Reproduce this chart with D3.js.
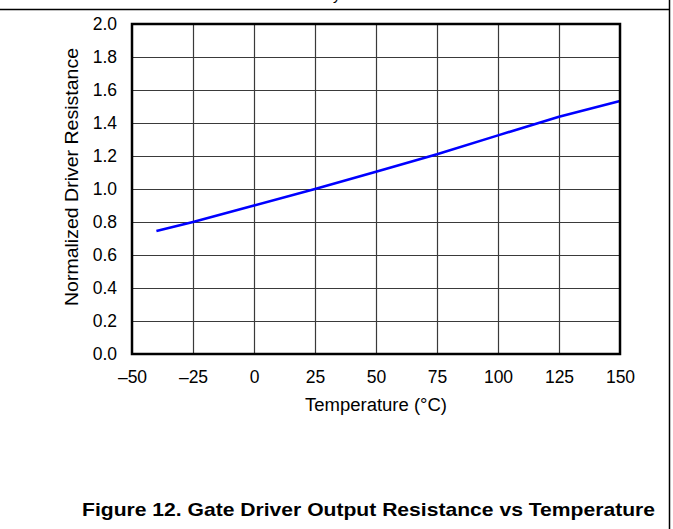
<!DOCTYPE html>
<html>
<head>
<meta charset="utf-8">
<script src="https://cdn.jsdelivr.net/npm/d3@7"></script>
<style>
  html, body { margin: 0; padding: 0; background: #fff; }
  svg { display: block; font-family: "Liberation Sans", Arial, sans-serif; }
</style>
</head>
<body>
<svg id="chart" width="673" height="529"></svg>
<script>
// ---- data ----
const temperatures = [-40, -25, 0, 25, 50, 75, 100, 125, 150];
const resistance   = [0.745, 0.80, 0.90, 1.00, 1.105, 1.21, 1.325, 1.438, 1.533];
const xTicks = [-50, -25, 0, 25, 50, 75, 100, 125, 150];
const yTicks = [0.0, 0.2, 0.4, 0.6, 0.8, 1.0, 1.2, 1.4, 1.6, 1.8, 2.0];
const xTitle = "Temperature (°C)";
const yTitle = "Normalized Driver Resistance";
const caption = "Figure 12. Gate Driver Output Resistance vs Temperature";

const svg = d3.select("#chart");
const W = 673, H = 529;
const plot = { left: 132, right: 620, top: 24, bottom: 354 };

// page frame lines
svg.append("line").attr("x1", 0).attr("x2", 670).attr("y1", 9.5).attr("y2", 9.5)
  .attr("stroke", "#000").attr("stroke-width", 1.5);
svg.append("line").attr("x1", 669.5).attr("x2", 669.5).attr("y1", 0).attr("y2", H)
  .attr("stroke", "#000").attr("stroke-width", 1.5);
// cut-off text fragment from previous section
svg.append("text").attr("x", 333).attr("y", 0).attr("font-size", 15).text("y");

const x = d3.scaleLinear().domain([-50, 150]).range([plot.left, plot.right]);
const y = d3.scaleLinear().domain([0, 2]).range([plot.bottom, plot.top]);

// grid
const g = svg.append("g");
g.selectAll("line.vg").data(xTicks.slice(1, -1)).join("line")
  .attr("x1", d => Math.round(x(d)) + 0.5).attr("x2", d => Math.round(x(d)) + 0.5)
  .attr("y1", plot.top).attr("y2", plot.bottom)
  .attr("stroke", "#3a3a3a").attr("stroke-width", 1.2);
g.selectAll("line.hg").data(yTicks.slice(1, -1)).join("line")
  .attr("y1", d => Math.round(y(d)) + 0.5).attr("y2", d => Math.round(y(d)) + 0.5)
  .attr("x1", plot.left).attr("x2", plot.right)
  .attr("stroke", "#3a3a3a").attr("stroke-width", 1.2);

// data line
const line = d3.line().x((d, i) => x(temperatures[i])).y(d => y(d));
svg.append("path").datum(resistance).attr("d", line)
  .attr("fill", "none").attr("stroke", "#0000ff").attr("stroke-width", 2.6)
  .attr("stroke-linejoin", "round");

// frame
svg.append("rect").attr("x", plot.left).attr("y", plot.top)
  .attr("width", plot.right - plot.left).attr("height", plot.bottom - plot.top)
  .attr("fill", "none").attr("stroke", "#000").attr("stroke-width", 2.5);

// axes (labels only)
const fmtX = d => d < 0 ? "\u2013" + Math.abs(d) : String(d);
const xAxis = svg.append("g").attr("transform", `translate(0,${plot.bottom})`)
  .call(d3.axisBottom(x).tickValues(xTicks).tickFormat(fmtX).tickSize(0).tickPadding(17));
const yAxis = svg.append("g").attr("transform", `translate(${plot.left},0)`)
  .call(d3.axisLeft(y).tickValues(yTicks).tickFormat(d3.format(".1f")).tickSize(0).tickPadding(15));
[xAxis, yAxis].forEach(a => {
  a.select(".domain").remove();
  a.attr("font-size", null).attr("font-family", null);
  a.selectAll("text").style("font-family", "'Liberation Sans', Arial, sans-serif")
    .style("font-size", "17.5px").attr("fill", "#000");
});

svg.append("text").attr("x", (plot.left + plot.right) / 2).attr("y", 411)
  .attr("text-anchor", "middle").style("font-size", "18px")
  .attr("textLength", 142).attr("lengthAdjust", "spacingAndGlyphs").text(xTitle);
svg.append("text").attr("transform", `translate(78,${(48 + 306) / 2}) rotate(-90)`)
  .attr("text-anchor", "middle").style("font-size", "18px")
  .attr("textLength", 258).attr("lengthAdjust", "spacingAndGlyphs").text(yTitle);

svg.append("text").attr("x", 82).attr("y", 516)
  .style("font-size", "19px").attr("font-weight", "bold")
  .attr("textLength", 573).attr("lengthAdjust", "spacingAndGlyphs")
  .text(caption);
</script>
</body>
</html>
